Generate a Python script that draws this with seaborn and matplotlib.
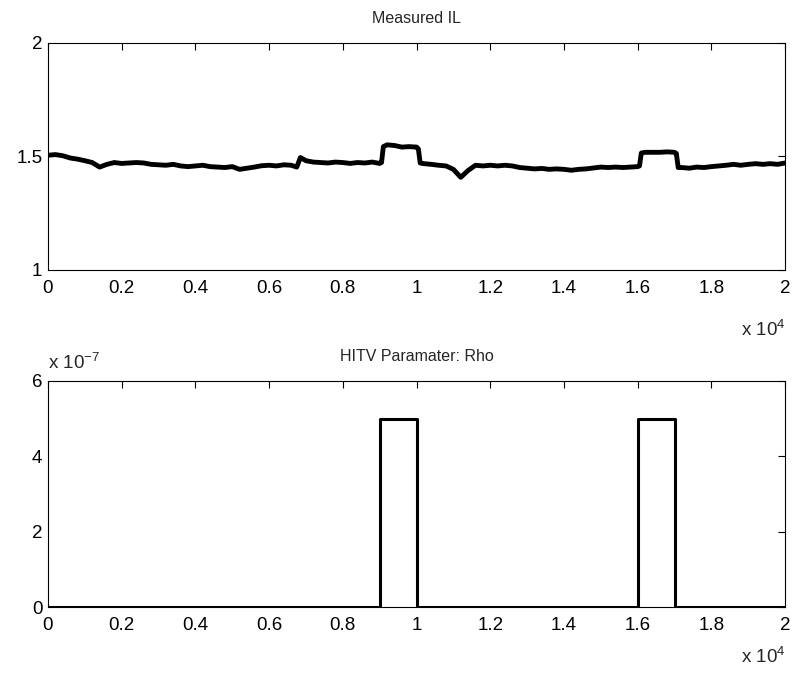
import numpy as np
import pandas as pd
import seaborn as sns
import matplotlib.pyplot as plt
from matplotlib.ticker import FuncFormatter

# measured insertion loss trace
il_x = [0, 200, 400, 600, 800, 1000, 1200, 1400, 1600, 1800, 2000, 2200, 2400, 2600,
        2800, 3000, 3200, 3400, 3600, 3800, 4000, 4200, 4400, 4600, 4800, 5000, 5200,
        5400, 5600, 5800, 6000, 6200, 6400, 6600, 6750, 6850, 7000, 7200, 7400, 7600,
        7800, 8000, 8200, 8400, 8600, 8800, 9000, 9050, 9100, 9200, 9400, 9600, 9800,
        10000, 10050, 10100, 10200, 10400, 10600, 10800, 11000, 11200, 11400, 11600,
        11800, 12000, 12200, 12400, 12600, 12800, 13000, 13200, 13400, 13600, 13800,
        14000, 14200, 14400, 14600, 14800, 15000, 15200, 15400, 15600, 15800, 16000,
        16050, 16100, 16200, 16400, 16600, 16800, 17000, 17050, 17100, 17200, 17400,
        17600, 17800, 18000, 18200, 18400, 18600, 18800, 19000, 19200, 19400, 19600,
        19800, 20000]
il_y = [1.505, 1.508, 1.503, 1.493, 1.488, 1.481, 1.473, 1.453, 1.465, 1.473, 1.469,
        1.471, 1.473, 1.471, 1.465, 1.463, 1.461, 1.465, 1.458, 1.455, 1.458, 1.461,
        1.455, 1.453, 1.451, 1.455, 1.443, 1.448, 1.453, 1.459, 1.461, 1.458, 1.463,
        1.461, 1.453, 1.495, 1.481, 1.475, 1.473, 1.471, 1.475, 1.473, 1.469, 1.473,
        1.471, 1.475, 1.469, 1.473, 1.543, 1.551, 1.548, 1.541, 1.543, 1.541, 1.533,
        1.471, 1.468, 1.465, 1.461, 1.458, 1.443, 1.408, 1.438, 1.461, 1.458, 1.461,
        1.458, 1.461, 1.458, 1.451, 1.448, 1.445, 1.447, 1.443, 1.445, 1.443, 1.439,
        1.443, 1.445, 1.449, 1.453, 1.451, 1.453, 1.451, 1.453, 1.455, 1.458, 1.515,
        1.518, 1.518, 1.518, 1.520, 1.518, 1.513, 1.451, 1.451, 1.448, 1.453, 1.451,
        1.455, 1.458, 1.461, 1.465, 1.461, 1.465, 1.468, 1.465, 1.468, 1.465, 1.471]

# HITV parameter rho (step profile)
rho_x = [0, 9000, 9000, 10000, 10000, 16000, 16000, 17000, 17000, 20000]
rho_y = [0, 0, 5e-7, 5e-7, 0, 0, 5e-7, 5e-7, 0, 0]

sns.set_style("white")
plt.rcParams["font.family"] = ["Liberation Sans", "DejaVu Sans"]
plt.rcParams["font.size"] = 13
plt.rcParams["mathtext.fontset"] = "custom"
plt.rcParams["mathtext.rm"] = "Liberation Sans"
plt.rcParams["mathtext.it"] = "Liberation Sans"

fig = plt.figure(figsize=(7.93, 6.8), dpi=100)
ax1 = fig.add_axes([0.0605, 0.603, 0.9295, 0.334])
ax2 = fig.add_axes([0.0605, 0.107, 0.9295, 0.333])

df_il = pd.DataFrame({"x": il_x, "y": il_y})
sns.lineplot(data=df_il, x="x", y="y", ax=ax1, color="black", lw=3.5,
             estimator=None, sort=False)
df_rho = pd.DataFrame({"x": rho_x, "y": rho_y})
sns.lineplot(data=df_rho, x="x", y="y", ax=ax2, color="black", lw=2.2,
             estimator=None, sort=False)

xfmt = FuncFormatter(lambda v, p: f"{v / 1e4:g}")
for ax in (ax1, ax2):
    ax.set_xlim(0, 20000)
    ax.set_xticks(np.arange(0, 20001, 2000))
    ax.xaxis.set_major_formatter(xfmt)
    ax.set_xlabel("")
    ax.set_ylabel("")
    ax.tick_params(direction="in", top=True, right=True, length=5, width=0.8,
                   labelsize=13.5, colors="black")
    ax.tick_params(axis="x", pad=7)
    ax.tick_params(axis="y", pad=4)
    for s in ax.spines.values():
        s.set_color("black")
        s.set_linewidth(0.8)

ax1.text(1.0, -0.29, r"x 10$^{4}$", transform=ax1.transAxes, ha="right",
         va="baseline", fontsize=13.5)
ax2.text(1.0, -0.248, r"x 10$^{4}$", transform=ax2.transAxes, ha="right",
         va="baseline", fontsize=13.5)

ax1.set_ylim(1, 2)
ax1.set_yticks([1, 1.5, 2])
ax1.yaxis.set_major_formatter(FuncFormatter(lambda v, p: f"{v:g}"))
ax1.set_title("Measured IL", fontsize=11.5, pad=14)

ax2.set_ylim(0, 6e-7)
ax2.set_yticks([0, 2e-7, 4e-7, 6e-7])
ax2.yaxis.set_major_formatter(FuncFormatter(lambda v, p: f"{v / 1e-7:g}"))
ax2.set_title("HITV Paramater: Rho", fontsize=11.5, pad=14)
ax2.text(0.0, 1.053, r"x 10$^{-7}$", transform=ax2.transAxes, ha="left",
         va="baseline", fontsize=13.5)

fig.savefig("out.png", dpi=100)
